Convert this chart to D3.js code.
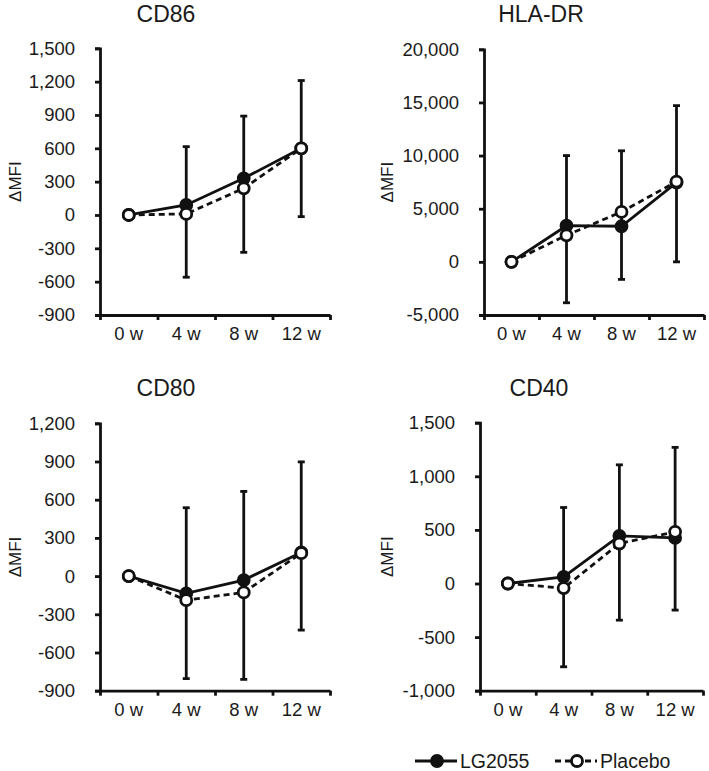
<!DOCTYPE html>
<html>
<head>
<meta charset="utf-8">
<script src="https://cdn.jsdelivr.net/npm/d3@7"></script>
<style>
  body { margin: 0; background: #fff; }
  text { font-family: "Liberation Sans", Arial, sans-serif; fill: #1a1a1a; }
</style>
</head>
<body>
<div id="wrapper"></div>
<script>
// data
const weeks = ["0 w", "4 w", "8 w", "12 w"]
const seriesNames = ["LG2055", "Placebo"]

const cd86Lg = [0, 90, 330, 600]
const cd86Placebo = [0, 10, 240, 600]
const cd86ErrHi = [null, 615, 890, 1210]
const cd86ErrLo = [null, -560, -336, -15]
const cd86Ticks = [-900, -600, -300, 0, 300, 600, 900, 1200, 1500]

const hlaLg = [0, 3400, 3350, 7450]
const hlaPlacebo = [0, 2500, 4700, 7550]
const hlaErrHi = [null, 10000, 10450, 14700]
const hlaErrLo = [null, -3850, -1650, 0]
const hlaTicks = [-5000, 0, 5000, 10000, 15000, 20000]

const cd80Lg = [0, -136, -31, 186]
const cd80Placebo = [0, -189, -128, 180]
const cd80ErrHi = [null, 537, 665, 897]
const cd80ErrLo = [null, -805, -811, -424]
const cd80Ticks = [-900, -600, -300, 0, 300, 600, 900, 1200]

const cd40Lg = [0, 62, 445, 425]
const cd40Placebo = [0, -43, 373, 482]
const cd40ErrHi = [null, 709, 1107, 1270]
const cd40ErrLo = [null, -777, -342, -248]
const cd40Ticks = [-1000, -500, 0, 500, 1000, 1500]

const panels = [
    { title: "CD86", lg: cd86Lg, placebo: cd86Placebo, hi: cd86ErrHi, lo: cd86ErrLo, ticks: cd86Ticks,
      left: 100, right: 330, top: 48.3, bottom: 315, titleX: 166, titleY: 22, labelX: 21 },
    { title: "HLA-DR", lg: hlaLg, placebo: hlaPlacebo, hi: hlaErrHi, lo: hlaErrLo, ticks: hlaTicks,
      left: 484, right: 704, top: 49.3, bottom: 315, titleX: 541, titleY: 22, labelX: 393 },
    { title: "CD80", lg: cd80Lg, placebo: cd80Placebo, hi: cd80ErrHi, lo: cd80ErrLo, ticks: cd80Ticks,
      left: 100, right: 330, top: 423.3, bottom: 690.7, titleX: 166, titleY: 396, labelX: 21 },
    { title: "CD40", lg: cd40Lg, placebo: cd40Placebo, hi: cd40ErrHi, lo: cd40ErrLo, ticks: cd40Ticks,
      left: 480, right: 703, top: 422.7, bottom: 690.7, titleX: 539, titleY: 396, labelX: 393 },
]

const width = 709
const height = 771
const strokeW = 2.8
const markerR = 5.5
const fmt = d => d3.format(",")(d).replace("\u2212", "-")

const svg = d3.select("#wrapper")
    .append("svg")
    .attr("width", width)
    .attr("height", height)

panels.forEach(p => {
    const g = svg.append("g")

    const xScale = d3.scaleBand()
        .domain(weeks)
        .range([p.left, p.right])

    const yScale = d3.scaleLinear()
        .domain(d3.extent(p.ticks))
        .range([p.bottom, p.top])

    const xPos = i => xScale(weeks[i]) + xScale.bandwidth() / 2

    // title and y label
    g.append("text")
        .attr("x", p.titleX)
        .attr("y", p.titleY)
        .attr("text-anchor", "middle")
        .style("font-size", "23px")
        .text(p.title)

    g.append("text")
        .attr("transform", `translate(${p.labelX}, ${(p.top + p.bottom) / 2}) rotate(-90)`)
        .attr("text-anchor", "middle")
        .style("font-size", "17px")
        .text("ΔMFI")

    // axes
    const yAxis = g.append("g")
        .attr("transform", `translate(${p.left},0)`)
        .call(d3.axisLeft(yScale).tickValues(p.ticks).tickFormat(fmt).tickSize(5).tickPadding(20))
    yAxis.selectAll("text").style("font-size", "18.5px")

    const xAxis = g.append("g")
        .attr("transform", `translate(0,${p.bottom})`)
        .call(d3.axisBottom(xScale).tickSize(0).tickPadding(12))
    xAxis.selectAll("text").style("font-size", "18.5px")
    xAxis.select(".domain").remove()

    const boundaryScale = d3.scaleLinear().domain([0, weeks.length]).range([p.left, p.right])
    g.append("g")
        .attr("transform", `translate(0,${p.bottom})`)
        .call(d3.axisBottom(boundaryScale).tickValues(d3.range(weeks.length + 1)).tickFormat("").tickSize(5).tickSizeOuter(0))

    g.selectAll(".domain, .tick line")
        .attr("stroke", "#111")
        .attr("stroke-width", strokeW)

    // error bars
    const errs = weeks.map((w, i) => ({ i, hi: p.hi[i], lo: p.lo[i] })).filter(d => d.hi !== null)
    const eb = g.append("g").attr("stroke", "#111").attr("stroke-width", strokeW)
    eb.selectAll(".whisker").data(errs).join("line")
        .attr("x1", d => xPos(d.i)).attr("x2", d => xPos(d.i))
        .attr("y1", d => yScale(d.hi)).attr("y2", d => yScale(d.lo))
    eb.selectAll(".cap-hi").data(errs).join("line")
        .attr("x1", d => xPos(d.i) - 3.5).attr("x2", d => xPos(d.i) + 3.5)
        .attr("y1", d => yScale(d.hi)).attr("y2", d => yScale(d.hi))
    eb.selectAll(".cap-lo").data(errs).join("line")
        .attr("x1", d => xPos(d.i) - 3.5).attr("x2", d => xPos(d.i) + 3.5)
        .attr("y1", d => yScale(d.lo)).attr("y2", d => yScale(d.lo))

    // series
    const lineGenerator = d3.line()
        .x((d, i) => xPos(i))
        .y(d => yScale(d))

    const series = [
        { values: p.lg, dash: null, fill: "#111" },
        { values: p.placebo, dash: "6,4", fill: "#fff" },
    ]
    series.forEach(s => {
        g.append("path")
            .attr("d", lineGenerator(s.values))
            .attr("fill", "none")
            .attr("stroke", "#111")
            .attr("stroke-width", strokeW)
            .attr("stroke-dasharray", s.dash)
        g.selectAll(null).data(s.values).join("circle")
            .attr("cx", (d, i) => xPos(i))
            .attr("cy", d => yScale(d))
            .attr("r", markerR)
            .attr("fill", s.fill)
            .attr("stroke", "#111")
            .attr("stroke-width", strokeW)
    })
})

// legend
const legend = svg.append("g").attr("transform", "translate(0,761)")
const legendItems = [
    { name: seriesNames[0], x: 415, dash: null, fill: "#111" },
    { name: seriesNames[1], x: 555, dash: "6,4", fill: "#fff" },
]
legendItems.forEach(item => {
    legend.append("line")
        .attr("x1", item.x).attr("x2", item.x + 42)
        .attr("stroke", "#111").attr("stroke-width", strokeW)
        .attr("stroke-dasharray", item.dash)
    legend.append("circle")
        .attr("cx", item.x + 22).attr("r", markerR)
        .attr("fill", item.fill).attr("stroke", "#111").attr("stroke-width", strokeW)
    legend.append("text")
        .attr("x", item.x + 45).attr("y", 7)
        .style("font-size", "19.5px")
        .text(item.name)
})
</script>
</body>
</html>
